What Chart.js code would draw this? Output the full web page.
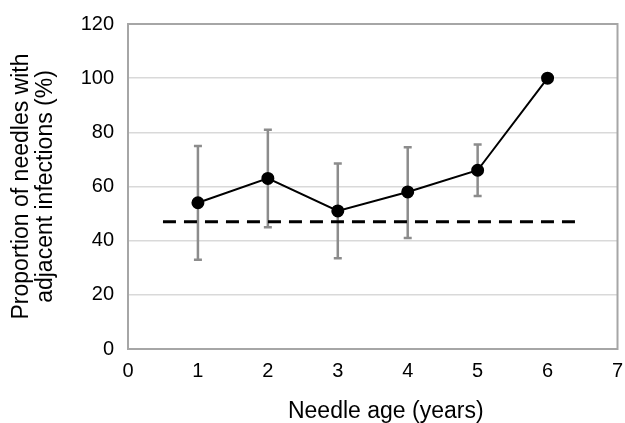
<!DOCTYPE html>
<html>
<head>
<meta charset="utf-8">
<script src="https://cdn.jsdelivr.net/npm/chart.js@4/dist/chart.umd.min.js"></script>
<style>
  html, body { margin: 0; padding: 0; background: #fff; }
  #wrap { width: 625px; height: 423px; }
</style>
</head>
<body>
<div id="wrap"><canvas id="needles"></canvas></div>
<script>
// values
const needleAge = [1, 2, 3, 4, 5, 6];
const proportion = [54, 63, 51, 58, 66, 100];
const errUpper = [75, 81, 68.5, 74.5, 75.5, null];
const errLower = [33, 45, 33.5, 41, 56.5, null];
const baselineX = [0.5, 6.4];
const baselineY = 47;
const yTicks = [0, 20, 40, 60, 80, 100, 120];
const xTicks = [0, 1, 2, 3, 4, 5, 6, 7];
const xTitle = "Needle age (years)";
const yTitle = ["Proportion of needles with", "adjacent infections (%)"];

const font = "'Liberation Sans', Arial, sans-serif";

// error bars + plot frame, drawn through the chart's own scales
const errorBars = {
  id: "errorBars",
  beforeDatasetsDraw(chart) {
    const { ctx, chartArea: a, scales } = chart;
    ctx.save();
    ctx.strokeStyle = "#a6a6a6";
    ctx.lineWidth = 2;
    ctx.strokeRect(a.left, a.top, a.right - a.left, a.bottom - a.top);

    ctx.strokeStyle = "#8c8c8c";
    ctx.lineWidth = 2.5;
    needleAge.forEach((age, i) => {
      if (errUpper[i] == null) return;
      const x = scales.x.getPixelForValue(age);
      const yTop = scales.y.getPixelForValue(errUpper[i]);
      const yBot = scales.y.getPixelForValue(errLower[i]);
      ctx.beginPath();
      ctx.moveTo(x, yTop);
      ctx.lineTo(x, yBot);
      ctx.moveTo(x - 4, yTop);
      ctx.lineTo(x + 4, yTop);
      ctx.moveTo(x - 4, yBot);
      ctx.lineTo(x + 4, yBot);
      ctx.stroke();
    });
    ctx.restore();
  },
  // x title sits a bit right of the plot centre in the original
  afterDraw(chart) {
    const { ctx, chartArea: a } = chart;
    ctx.save();
    ctx.fillStyle = "#000";
    ctx.font = "23px " + font;
    ctx.textAlign = "center";
    ctx.textBaseline = "alphabetic";
    ctx.fillText(xTitle, (a.left + a.right) / 2 + 13, 418);
    ctx.restore();
  },
};

new Chart(document.getElementById("needles"), {
  type: "line",
  data: {
    datasets: [
      {
        label: "Baseline",
        data: baselineX.map((x) => ({ x: x, y: baselineY })),
        borderColor: "#000",
        borderWidth: 3,
        borderDash: [13, 8],
        pointRadius: 0,
        fill: false,
      },
      {
        label: "Proportion",
        data: needleAge.map((x, i) => ({ x: x, y: proportion[i] })),
        borderColor: "#000",
        backgroundColor: "#000",
        borderWidth: 2,
        pointRadius: 5.5,
        pointHoverRadius: 5.5,
        tension: 0,
        fill: false,
      },
    ],
  },
  options: {
    responsive: true,
    maintainAspectRatio: false,
    animation: false,
    layout: { padding: { top: 24, right: 6, left: 0, bottom: 0 } },
    plugins: {
      legend: { display: false },
      tooltip: { enabled: false },
    },
    scales: {
      x: {
        type: "linear",
        min: 0,
        max: 7,
        afterBuildTicks: (s) => { s.ticks = xTicks.map((v) => ({ value: v })); },
        afterFit: (s) => { s.height = 74; s.paddingLeft = 0; s.paddingRight = 0; },
        grid: { display: false, drawTicks: false },
        border: { display: false },
        ticks: { color: "#000", padding: 10, font: { family: font, size: 20 } },
        title: { display: false },
      },
      y: {
        min: 0,
        max: 120,
        afterBuildTicks: (s) => { s.ticks = yTicks.map((v) => ({ value: v })); },
        afterFit: (s) => { s.width = 128; s.paddingTop = 0; s.paddingBottom = 0; },
        grid: { color: "#d9d9d9", lineWidth: 1.5, drawTicks: false },
        border: { display: false },
        ticks: { color: "#000", padding: 14, font: { family: font, size: 20 } },
        title: {
          display: true,
          text: yTitle,
          color: "#000",
          font: { family: font, size: 23, lineHeight: 1.04 },
          padding: { top: 10, bottom: 0 },
        },
      },
    },
  },
  plugins: [errorBars],
});
</script>
</body>
</html>
